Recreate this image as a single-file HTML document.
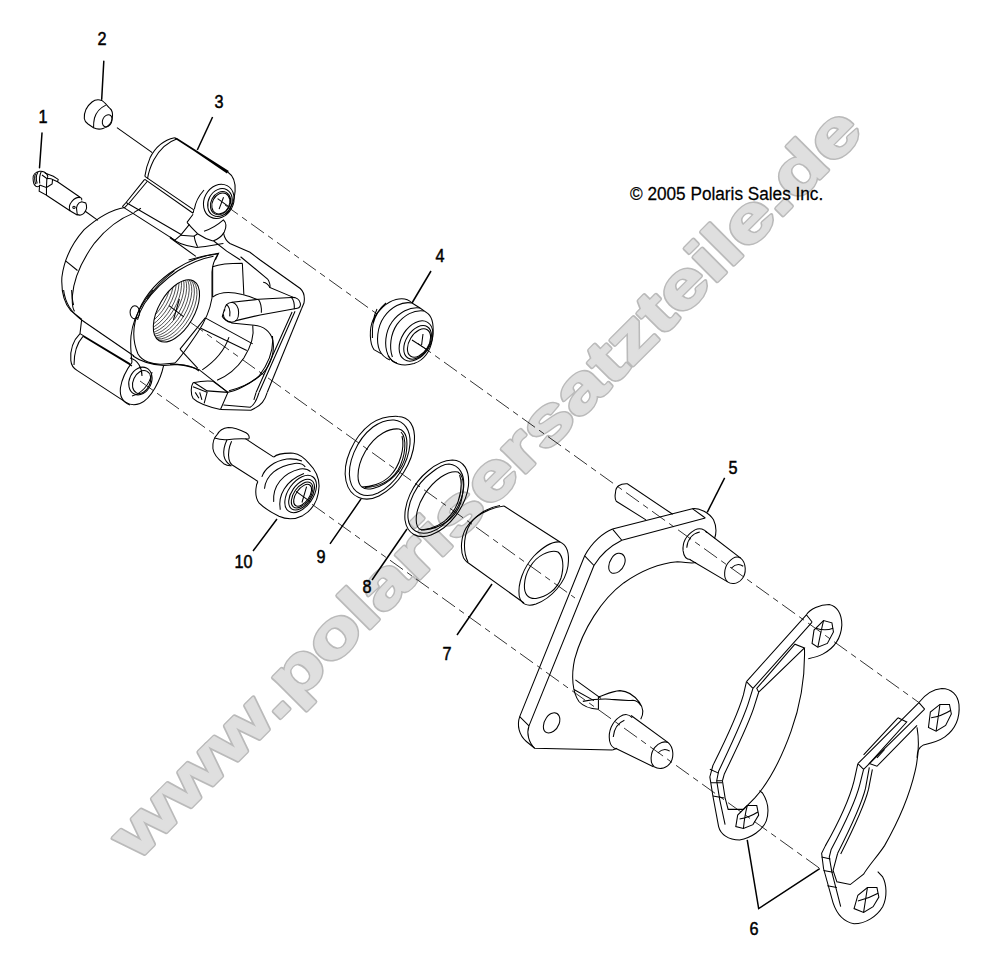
<!DOCTYPE html>
<html><head><meta charset="utf-8">
<style>
html,body{margin:0;padding:0;background:#fff;width:988px;height:970px;overflow:hidden}
svg{display:block;position:absolute;left:0;top:0}
.wm{font-family:"Liberation Sans",sans-serif;font-weight:bold;font-size:64px;stroke-linejoin:round}
.wmo{fill:#bababa;stroke:#bababa;stroke-width:4.0px}
.wmi{fill:#dfdfdf;stroke:#dfdfdf;stroke-width:1.3px}
.ld{stroke-width:1.5px}
.dl{stroke-width:0.8px}
.lbl{font-family:"Liberation Sans",sans-serif;font-size:18px;fill:#000;stroke:#000;stroke-width:0.5px}
.cp{font-family:"Liberation Sans",sans-serif;font-size:19px;fill:#000;stroke:#000;stroke-width:0.25px}
</style></head><body>
<svg width="988" height="970" viewBox="0 0 988 970">
<g id="wmark">
<text class="wm wmo" transform="translate(160.27,838.16) rotate(-45) scale(1.3242,1)" x="-24.86" y="0">w</text>
<text class="wm wmo" transform="translate(206.86,791.57) rotate(-45) scale(1.3230,1)" x="-24.86" y="0">w</text>
<text class="wm wmo" transform="translate(253.41,745.02) rotate(-45) scale(1.3218,1)" x="-24.86" y="0">w</text>
<text class="wm wmo" transform="translate(284.98,713.46) rotate(-45) scale(1.3210,1)" x="-8.86" y="0">.</text>
<text class="wm wmo" transform="translate(312.30,686.13) rotate(-45) scale(1.3203,1)" x="-20.34" y="0">p</text>
<text class="wm wmo" transform="translate(348.04,650.39) rotate(-45) scale(1.3193,1)" x="-19.55" y="0">o</text>
<text class="wm wmo" transform="translate(374.54,623.90) rotate(-45) scale(1.3186,1)" x="-8.86" y="0">l</text>
<text class="wm wmo" transform="translate(400.51,597.93) rotate(-45) scale(1.3180,1)" x="-18.94" y="0">a</text>
<text class="wm wmo" transform="translate(429.14,569.29) rotate(-45) scale(1.3172,1)" x="-14.08" y="0">r</text>
<text class="wm wmo" transform="translate(447.48,550.96) rotate(-45) scale(1.3167,1)" x="-8.86" y="0">i</text>
<text class="wm wmo" transform="translate(472.17,526.26) rotate(-45) scale(1.3161,1)" x="-17.61" y="0">s</text>
<text class="wm wmo" transform="translate(505.61,492.83) rotate(-45) scale(1.3152,1)" x="-17.95" y="0">e</text>
<text class="wm wmo" transform="translate(535.10,463.34) rotate(-45) scale(1.3145,1)" x="-14.08" y="0">r</text>
<text class="wm wmo" transform="translate(561.52,436.91) rotate(-45) scale(1.3138,1)" x="-17.61" y="0">s</text>
<text class="wm wmo" transform="translate(595.81,402.62) rotate(-45) scale(1.3129,1)" x="-18.94" y="0">a</text>
<text class="wm wmo" transform="translate(621.16,377.28) rotate(-45) scale(1.3122,1)" x="-10.66" y="0">t</text>
<text class="wm wmo" transform="translate(646.00,352.43) rotate(-45) scale(1.3116,1)" x="-16.12" y="0">z</text>
<text class="wm wmo" transform="translate(670.60,327.83) rotate(-45) scale(1.3109,1)" x="-10.66" y="0">t</text>
<text class="wm wmo" transform="translate(697.12,301.32) rotate(-45) scale(1.3102,1)" x="-17.95" y="0">e</text>
<text class="wm wmo" transform="translate(721.66,276.77) rotate(-45) scale(1.3096,1)" x="-8.86" y="0">i</text>
<text class="wm wmo" transform="translate(738.13,260.31) rotate(-45) scale(1.3092,1)" x="-8.86" y="0">l</text>
<text class="wm wmo" transform="translate(763.00,235.44) rotate(-45) scale(1.3085,1)" x="-17.95" y="0">e</text>
<text class="wm wmo" transform="translate(787.51,210.92) rotate(-45) scale(1.3079,1)" x="-8.86" y="0">.</text>
<text class="wm wmo" transform="translate(813.10,185.34) rotate(-45) scale(1.3072,1)" x="-18.75" y="0">d</text>
<text class="wm wmo" transform="translate(848.48,149.95) rotate(-45) scale(1.3063,1)" x="-17.95" y="0">e</text>
<text class="wm wmi" transform="translate(160.27,838.16) rotate(-45) scale(1.3242,1)" x="-24.86" y="0">w</text>
<text class="wm wmi" transform="translate(206.86,791.57) rotate(-45) scale(1.3230,1)" x="-24.86" y="0">w</text>
<text class="wm wmi" transform="translate(253.41,745.02) rotate(-45) scale(1.3218,1)" x="-24.86" y="0">w</text>
<text class="wm wmi" transform="translate(284.98,713.46) rotate(-45) scale(1.3210,1)" x="-8.86" y="0">.</text>
<text class="wm wmi" transform="translate(312.30,686.13) rotate(-45) scale(1.3203,1)" x="-20.34" y="0">p</text>
<text class="wm wmi" transform="translate(348.04,650.39) rotate(-45) scale(1.3193,1)" x="-19.55" y="0">o</text>
<text class="wm wmi" transform="translate(374.54,623.90) rotate(-45) scale(1.3186,1)" x="-8.86" y="0">l</text>
<text class="wm wmi" transform="translate(400.51,597.93) rotate(-45) scale(1.3180,1)" x="-18.94" y="0">a</text>
<text class="wm wmi" transform="translate(429.14,569.29) rotate(-45) scale(1.3172,1)" x="-14.08" y="0">r</text>
<text class="wm wmi" transform="translate(447.48,550.96) rotate(-45) scale(1.3167,1)" x="-8.86" y="0">i</text>
<text class="wm wmi" transform="translate(472.17,526.26) rotate(-45) scale(1.3161,1)" x="-17.61" y="0">s</text>
<text class="wm wmi" transform="translate(505.61,492.83) rotate(-45) scale(1.3152,1)" x="-17.95" y="0">e</text>
<text class="wm wmi" transform="translate(535.10,463.34) rotate(-45) scale(1.3145,1)" x="-14.08" y="0">r</text>
<text class="wm wmi" transform="translate(561.52,436.91) rotate(-45) scale(1.3138,1)" x="-17.61" y="0">s</text>
<text class="wm wmi" transform="translate(595.81,402.62) rotate(-45) scale(1.3129,1)" x="-18.94" y="0">a</text>
<text class="wm wmi" transform="translate(621.16,377.28) rotate(-45) scale(1.3122,1)" x="-10.66" y="0">t</text>
<text class="wm wmi" transform="translate(646.00,352.43) rotate(-45) scale(1.3116,1)" x="-16.12" y="0">z</text>
<text class="wm wmi" transform="translate(670.60,327.83) rotate(-45) scale(1.3109,1)" x="-10.66" y="0">t</text>
<text class="wm wmi" transform="translate(697.12,301.32) rotate(-45) scale(1.3102,1)" x="-17.95" y="0">e</text>
<text class="wm wmi" transform="translate(721.66,276.77) rotate(-45) scale(1.3096,1)" x="-8.86" y="0">i</text>
<text class="wm wmi" transform="translate(738.13,260.31) rotate(-45) scale(1.3092,1)" x="-8.86" y="0">l</text>
<text class="wm wmi" transform="translate(763.00,235.44) rotate(-45) scale(1.3085,1)" x="-17.95" y="0">e</text>
<text class="wm wmi" transform="translate(787.51,210.92) rotate(-45) scale(1.3079,1)" x="-8.86" y="0">.</text>
<text class="wm wmi" transform="translate(813.10,185.34) rotate(-45) scale(1.3072,1)" x="-18.75" y="0">d</text>
<text class="wm wmi" transform="translate(848.48,149.95) rotate(-45) scale(1.3063,1)" x="-17.95" y="0">e</text>
</g>
<text class="cp" transform="translate(630,199.5) scale(0.905,1)" x="0" y="0">© 2005 Polaris Sales Inc.</text>

<g id="draw" fill="none" stroke="#000" stroke-width="1.05" stroke-linecap="round" stroke-linejoin="round">
<!-- labels leader lines -->
<path class="ld" d="M103.8,61.2 L101.7,99.2"/>
<path class="ld" d="M42,133 L39.5,167.8"/>
<!-- part 2 cap -->
<path d="M101.7,100.4 C98,99 95,99.5 92,102 C87,106 84,112 84.3,118.5 C84.5,121 86,122.5 88,124 L93.5,127.8 C96,129 100,129.5 103,128.5 C108,127 111.5,123 112.3,118 C113,113 112,110 110,108.5 C107,105.5 104.5,102 101.7,100.4 Z"/>
<path d="M105.4,105.4 C100,108 96,113 94.5,118 C93.5,122 93.5,125 93.6,127.6"/>
<ellipse cx="107.2" cy="120.8" rx="4.6" ry="6.3" transform="rotate(25 107.2 120.8)"/>
</g>

<g id="bleeder" fill="none" stroke="#000" stroke-width="1.05" transform="translate(25,160) scale(0.080972)">
<path vector-effect="non-scaling-stroke" d="M100,230 C95,185 130,150 180,140 C215,135 250,150 270,175 C285,195 285,215 270,235"/>
<path vector-effect="non-scaling-stroke" d="M100,230 C100,270 110,310 135,325 C150,332 170,328 182,315"/>
<path vector-effect="non-scaling-stroke" d="M130,170 C115,200 115,260 135,300 M160,150 C140,180 135,240 150,290 M200,145 C185,175 175,230 182,290"/>
<path vector-effect="non-scaling-stroke" d="M180,310 L175,385 L265,435 L265,340 L180,310 M210,185 L270,230 L265,340 M270,230 C300,225 325,230 340,240 L335,295 L265,340"/>
<path vector-effect="non-scaling-stroke" d="M245,160 L350,200 L410,240 L402,268 L340,240 M402,268 L680,460 M265,435 L560,630"/>
<path vector-effect="non-scaling-stroke" d="M560,630 C540,600 548,550 580,510 C610,475 655,455 690,465 C700,470 705,480 700,500"/>
<path vector-effect="non-scaling-stroke" d="M640,630 C625,580 650,525 700,515 L750,530 C765,560 762,610 735,650 C710,680 670,690 645,670 Z"/>
<path vector-effect="non-scaling-stroke" d="M560,630 L650,682"/>
<circle vector-effect="non-scaling-stroke" cx="605" cy="585" r="15"/>
<path vector-effect="non-scaling-stroke" d="M740,630 L900,745"/>
</g>
<g id="z1" fill="none" stroke="#000" stroke-width="1.05" transform="translate(50,200) scale(0.14846)">
<path vector-effect="non-scaling-stroke" d="M505,50 C430,62 330,110 230,200 C150,290 95,400 80,520 C75,620 100,700 140,745 L215,805"/>
<path vector-effect="non-scaling-stroke" d="M570,85 C480,120 380,190 300,290 C220,400 160,520 150,650 C148,700 152,730 165,750"/>
<path vector-effect="non-scaling-stroke" d="M105,410 L185,475"/>
</g>
<g id="z2" fill="none" stroke="#000" stroke-width="1.05" transform="translate(130,120) scale(0.14846)">
<path vector-effect="non-scaling-stroke" d="M-88,51 L150,220"/>
<path vector-effect="non-scaling-stroke" d="M300,120 C230,135 170,185 135,255 C115,300 105,345 100,380"/>
<path vector-effect="non-scaling-stroke" d="M318,127 C250,150 195,205 160,270 C140,310 125,350 118,395"/>
<path vector-effect="non-scaling-stroke" d="M300,120 L660,352 M312,122 L664,346 M322,130 L655,357 M300,120 L322,130"/>
<path vector-effect="non-scaling-stroke" d="M660,352 C695,375 712,420 708,480 C704,540 680,600 645,640"/>
<ellipse vector-effect="non-scaling-stroke" cx="598" cy="548" rx="98" ry="120" transform="rotate(28 598 548)"/>
<ellipse vector-effect="non-scaling-stroke" cx="606" cy="556" rx="78" ry="98" transform="rotate(28 606 556)"/>
<ellipse vector-effect="non-scaling-stroke" cx="610" cy="560" rx="64" ry="82" transform="rotate(28 610 560)"/>
<ellipse vector-effect="non-scaling-stroke" cx="612" cy="562" rx="57" ry="74" transform="rotate(28 612 562)"/>
<path vector-effect="non-scaling-stroke" d="M100,380 L430,605 M100,400 L425,628 M430,605 L425,628"/>
<path vector-effect="non-scaling-stroke" d="M590,530 L660,580 M630,520 L600,600"/>
</g>

<g id="z8" fill="none" stroke="#000" stroke-width="1.05" transform="translate(110,180) scale(0.123716)">
<path vector-effect="non-scaling-stroke" d="M280,-5 L130,182 M302,10 L152,190"/>
<path vector-effect="non-scaling-stroke" d="M130,182 L575,440 M100,215 L530,490 M150,190 L120,222 M250,228 L195,262 M130,182 L100,215"/>
<path vector-effect="non-scaling-stroke" d="M300,960 C350,890 430,800 520,735"/>
</g>
<defs><clipPath id="boreclip"><ellipse vector-effect="non-scaling-stroke" cx="380" cy="410" rx="120" ry="232" transform="rotate(30 380 410)"/></clipPath></defs>
<g id="z9" fill="none" stroke="#000" stroke-width="1.05" transform="translate(120,250) scale(0.14846)">
<ellipse vector-effect="non-scaling-stroke" cx="380" cy="410" rx="120" ry="232" transform="rotate(30 380 410)"/>
<g clip-path="url(#boreclip)" stroke-width="0.7">
<ellipse vector-effect="non-scaling-stroke" cx="362.7" cy="400.0" rx="120" ry="232" transform="rotate(30 362.7 400.0)"/>
<ellipse vector-effect="non-scaling-stroke" cx="345.4" cy="390.0" rx="120" ry="232" transform="rotate(30 345.4 390.0)"/>
<ellipse vector-effect="non-scaling-stroke" cx="328.0" cy="380.0" rx="120" ry="232" transform="rotate(30 328.0 380.0)"/>
<ellipse vector-effect="non-scaling-stroke" cx="310.7" cy="370.0" rx="120" ry="232" transform="rotate(30 310.7 370.0)"/>
<ellipse vector-effect="non-scaling-stroke" cx="293.4" cy="360.0" rx="120" ry="232" transform="rotate(30 293.4 360.0)"/>
<ellipse vector-effect="non-scaling-stroke" cx="276.1" cy="350.0" rx="120" ry="232" transform="rotate(30 276.1 350.0)"/>
<ellipse vector-effect="non-scaling-stroke" cx="258.8" cy="340.0" rx="120" ry="232" transform="rotate(30 258.8 340.0)"/>
<ellipse vector-effect="non-scaling-stroke" cx="241.4" cy="330.0" rx="120" ry="232" transform="rotate(30 241.4 330.0)"/>
<ellipse vector-effect="non-scaling-stroke" cx="224.1" cy="320.0" rx="120" ry="232" transform="rotate(30 224.1 320.0)"/>
<ellipse vector-effect="non-scaling-stroke" cx="206.8" cy="310.0" rx="120" ry="232" transform="rotate(30 206.8 310.0)"/>
<ellipse vector-effect="non-scaling-stroke" cx="189.5" cy="300.0" rx="120" ry="232" transform="rotate(30 189.5 300.0)"/>
</g>
<path vector-effect="non-scaling-stroke" d="M330,375 L430,450 M400,330 L360,470"/>
<ellipse vector-effect="non-scaling-stroke" cx="100" cy="420" rx="32" ry="44"/>
<path vector-effect="non-scaling-stroke" d="M630,42 C560,55 470,90 390,140 C300,200 220,280 165,360 C140,400 125,440 118,470"/>
</g>
<g id="z10" fill="none" stroke="#000" stroke-width="1.05" transform="translate(180,260) scale(0.14846)">
<path vector-effect="non-scaling-stroke" d="M471,-52 L540,0 L810,192 C835,215 842,250 835,290 L820,325"/>
<path vector-effect="non-scaling-stroke" d="M408,-22 L590,128 C600,140 610,170 605,185 L760,250"/>
<path vector-effect="non-scaling-stroke" d="M560,150 C580,150 600,170 605,185"/>
<path vector-effect="non-scaling-stroke" d="M820,325 L588,891"/>
<path vector-effect="non-scaling-stroke" d="M775,345 L533,891 M755,350 L513,891"/>
<path vector-effect="non-scaling-stroke" d="M300,345 C300,310 320,288 350,285 C375,288 395,315 395,355 C395,395 375,420 345,420 C315,418 292,395 292,365"/>
<path vector-effect="non-scaling-stroke" d="M345,420 C330,415 295,400 285,380 L300,330 M310,300 C330,310 340,340 335,380"/>
<path vector-effect="non-scaling-stroke" d="M350,285 L530,265 L750,252 C780,250 805,265 810,290 C815,310 805,322 790,325 L540,370 L370,410"/>
<path vector-effect="non-scaling-stroke" d="M530,268 C545,290 550,320 548,355 M750,252 C768,270 772,300 770,332"/>
<path vector-effect="non-scaling-stroke" d="M220,250 C260,220 330,210 420,232 C460,240 500,260 530,268"/>
<path vector-effect="non-scaling-stroke" d="M345,425 L500,440 C560,445 610,480 625,540 C640,610 615,700 560,760 C500,820 420,860 330,880"/>
<path vector-effect="non-scaling-stroke" d="M490,440 C500,500 480,580 430,660 C390,720 320,780 250,810"/>
<path vector-effect="non-scaling-stroke" d="M330,520 C310,580 270,660 150,740"/>
<path vector-effect="non-scaling-stroke" d="M170,390 L490,565 M140,460 L450,610 M170,390 L0,600"/>
<path vector-effect="non-scaling-stroke" d="M220,45 L220,250 M420,22 L430,232 M220,45 C260,30 330,22 420,22"/>
<path vector-effect="non-scaling-stroke" d="M0,600 L120,730"/>
</g>
<g id="z11" fill="none" stroke="#000" stroke-width="1.05" transform="translate(170,330) scale(0.14846)">
<path vector-effect="non-scaling-stroke" d="M655,420 C640,470 620,510 545,540 L340,535"/>
<path vector-effect="non-scaling-stroke" d="M600,420 C585,470 570,505 540,520 L360,505 M580,420 L565,470"/>
<path vector-effect="non-scaling-stroke" d="M155,355 C140,380 138,430 155,460 C180,485 250,515 340,535"/>
<path vector-effect="non-scaling-stroke" d="M155,355 C200,345 250,340 290,345 L390,420 L340,535 M160,352 L250,410 L390,420 M155,382 L250,420 L230,495"/>
<path vector-effect="non-scaling-stroke" d="M170,420 L195,460 M200,420 L215,470"/>
<path vector-effect="non-scaling-stroke" d="M390,420 C440,410 530,370 600,310 C660,230 700,130 690,40"/>
<path vector-effect="non-scaling-stroke" d="M0,230 C60,230 140,245 200,270 L390,420"/>
</g>
<g id="z16" fill="none" stroke="#000" stroke-width="1.05" transform="translate(170,190) scale(0.080972)">
<path vector-effect="non-scaling-stroke" d="M300,240 C310,170 340,90 420,0"/>
<path vector-effect="non-scaling-stroke" d="M285,300 L210,400 M240,425 L130,560 L60,620"/>
<path vector-effect="non-scaling-stroke" d="M210,400 C260,460 300,500 340,540 C400,580 460,610 530,630"/>
<path vector-effect="non-scaling-stroke" d="M130,560 L300,570 M300,560 C300,600 315,650 340,700 M340,540 L300,570"/>
<path vector-effect="non-scaling-stroke" d="M0,580 C60,640 150,690 330,710 C420,705 520,685 660,660"/>
<path vector-effect="non-scaling-stroke" d="M420,510 C500,485 580,440 660,370 C690,400 705,450 670,520 C640,570 590,610 530,630"/>
<path vector-effect="non-scaling-stroke" d="M660,530 C670,580 690,630 740,660 L988,770"/>
<path vector-effect="non-scaling-stroke" d="M540,630 L700,755 L870,864"/>
<path vector-effect="non-scaling-stroke" d="M0,590 L320,820"/>
<path vector-effect="non-scaling-stroke" d="M230,864 C350,830 480,800 600,780 L560,864"/>
</g>
<g id="cal2" fill="none" stroke="#000" stroke-width="1.05" transform="translate(130,220) scale(0.2)">
<path vector-effect="non-scaling-stroke" d="M440,170 C380,175 300,200 230,245 C150,295 80,370 45,450 C15,520 10,600 40,670 C60,705 110,725 170,720 L225,715"/>
<path vector-effect="non-scaling-stroke" d="M440,170 C420,200 412,225 410,260 L410,390 C400,450 380,500 340,560 C300,620 260,680 225,715"/>
<path vector-effect="non-scaling-stroke" d="M0,690 C40,700 60,740 60,780 M10,880 C50,870 100,830 110,760"/>
</g>

<g id="cal3" fill="none" stroke="#000" stroke-width="1.05" transform="translate(50,290) scale(0.2)">
<path vector-effect="non-scaling-stroke" d="M68,0 C75,60 110,115 158,150 L420,330"/>
<path vector-effect="non-scaling-stroke" d="M108,0 C110,40 112,55 118,75"/>
<path vector-effect="non-scaling-stroke" d="M158,150 L150,218 M150,218 L400,368 M165,232 L410,380"/>
<path vector-effect="non-scaling-stroke" d="M150,218 C118,250 100,300 104,352 C106,375 115,390 135,402 L380,562 C400,575 430,575 450,568"/>
<path vector-effect="non-scaling-stroke" d="M165,232 C135,265 120,310 120,375"/>
<path vector-effect="non-scaling-stroke" d="M410,362 C385,395 360,440 352,490 C348,530 360,560 400,575"/>
<path vector-effect="non-scaling-stroke" d="M450,568 C480,555 505,525 525,490 C545,455 560,415 568,378 L640,372 C680,372 720,385 745,405"/>
<ellipse vector-effect="non-scaling-stroke" cx="452" cy="455" rx="55" ry="72" transform="rotate(25 452 455)"/>
<ellipse vector-effect="non-scaling-stroke" cx="458" cy="460" rx="42" ry="60" transform="rotate(25 458 460)"/>
<path vector-effect="non-scaling-stroke" d="M410,362 C405,320 400,280 405,230 C410,180 430,120 470,60 C485,35 500,15 515,0"/>
<path vector-effect="non-scaling-stroke" d="M415,330 C450,355 490,372 568,378"/>
</g>

<g id="p4" fill="none" stroke="#000" stroke-width="1.05" transform="translate(340,260) scale(0.2)">
<path vector-effect="non-scaling-stroke" class="ld" d="M455,55 L360,215"/>
<path vector-effect="non-scaling-stroke" d="M360,215 C340,195 310,190 280,198 C235,210 190,250 165,300 C145,345 148,420 170,448 L205,468"/>
<path vector-effect="non-scaling-stroke" d="M230,215 C200,240 175,280 165,320 M185,245 C170,275 160,330 162,390"/>
<path vector-effect="non-scaling-stroke" d="M360,215 C310,205 255,235 220,285 C185,335 180,410 198,452 C208,475 225,490 250,500"/>
<path vector-effect="non-scaling-stroke" d="M400,240 C350,232 295,262 260,310 C225,360 220,430 240,475 C250,495 265,510 285,515"/>
<path vector-effect="non-scaling-stroke" d="M420,255 C370,248 320,275 285,322 C252,370 245,440 262,485"/>
<path vector-effect="non-scaling-stroke" d="M360,215 L400,240 L440,268 C465,290 470,340 462,395 C452,455 420,500 370,518 C330,530 290,525 262,505 L240,480"/>
<ellipse vector-effect="non-scaling-stroke" cx="380" cy="405" rx="72" ry="110" transform="rotate(32 380 405)"/>
<ellipse vector-effect="non-scaling-stroke" cx="388" cy="412" rx="58" ry="92" transform="rotate(32 388 412)"/>
<ellipse vector-effect="non-scaling-stroke" cx="395" cy="415" rx="48" ry="78" transform="rotate(32 395 415)"/>
<path vector-effect="non-scaling-stroke" d="M360,400 L440,452 M415,370 L408,425"/>
</g>
<text class="lbl" transform="translate(435.5,262) scale(0.9,1)">4</text>

<g id="p10" fill="none" stroke="#000" stroke-width="1.05" transform="translate(200,415) scale(0.131579)">
<path vector-effect="non-scaling-stroke" class="ld" d="M585,790 L403,1034 M1224,638 L988,980"/>
<path vector-effect="non-scaling-stroke" d="M130,150 C145,120 170,100 215,95 C260,95 320,120 350,135 C370,148 378,165 372,182"/>
<path vector-effect="non-scaling-stroke" d="M130,150 C105,175 95,215 98,255 C102,295 130,330 180,370 C200,382 220,388 240,385"/>
<path vector-effect="non-scaling-stroke" d="M110,175 C140,185 175,190 205,188 C260,180 320,178 372,182"/>
<path vector-effect="non-scaling-stroke" d="M205,188 C190,220 175,270 182,310 C188,340 205,365 235,385"/>
<path vector-effect="non-scaling-stroke" d="M240,200 C222,240 212,290 220,335 C225,358 235,372 242,378"/>
<path vector-effect="non-scaling-stroke" d="M345,180 L560,320 M242,378 L440,505"/>
<path vector-effect="non-scaling-stroke" d="M560,320 C580,300 640,288 710,290 C750,295 790,320 830,370 C880,420 905,480 905,540 C902,640 860,720 780,765 C720,795 650,792 600,770 C540,740 480,700 450,670 C425,640 420,580 430,530 L440,505"/>
<path vector-effect="non-scaling-stroke" d="M470,470 C490,410 560,350 660,335 C710,330 750,340 775,350"/>
<path vector-effect="non-scaling-stroke" d="M490,560 C500,460 590,385 720,368 C760,365 790,380 800,395"/>
<path vector-effect="non-scaling-stroke" d="M560,660 C550,540 630,440 760,410 C800,405 830,420 840,430"/>
<path vector-effect="non-scaling-stroke" d="M610,720 C590,610 650,500 790,445"/>
<ellipse vector-effect="non-scaling-stroke" cx="765" cy="600" rx="95" ry="160" transform="rotate(35 765 600)"/>
<ellipse vector-effect="non-scaling-stroke" cx="772" cy="605" rx="76" ry="132" transform="rotate(35 772 605)"/>
<ellipse vector-effect="non-scaling-stroke" cx="776" cy="608" rx="62" ry="112" transform="rotate(35 776 608)"/>
<ellipse vector-effect="non-scaling-stroke" cx="780" cy="610" rx="50" ry="95" transform="rotate(35 780 610)"/>
<path vector-effect="non-scaling-stroke" d="M730,580 L840,660 M810,545 L775,665"/>
</g>
<text class="lbl" transform="translate(234.5,568) scale(0.9,1)">10</text>
<text class="lbl" transform="translate(316.5,563) scale(0.9,1)">9</text>

<g id="p98" fill="none" stroke="#000" stroke-width="1.05" transform="translate(330,390) scale(0.2)">
<path vector-effect="non-scaling-stroke" d="M340,132 C395,132 428,180 422,258 C414,360 345,478 245,530 C175,565 100,540 80,455 C60,365 115,235 205,168 C245,142 295,130 340,132 Z"/>
<path vector-effect="non-scaling-stroke" d="M320,150 C370,155 405,200 400,270 C392,365 330,470 240,515 C175,545 115,520 100,450 C85,370 130,250 215,185 C250,160 290,148 320,150"/>
<path vector-effect="non-scaling-stroke" d="M345,195 C380,205 392,250 380,320 C365,400 300,470 215,492 C165,505 140,480 140,430 C140,350 195,255 265,215 C295,198 320,192 345,195 Z"/>
<path vector-effect="non-scaling-stroke" d="M355,210 C385,240 380,330 340,400 C300,460 240,485 175,488 M360,230 C375,290 350,380 300,430 C260,470 200,485 160,485"/>
<path vector-effect="non-scaling-stroke" d="M612,350 C668,352 700,400 692,480 C680,580 600,690 505,725 C440,748 385,720 375,650 C368,570 410,470 490,405 C530,370 575,350 612,350 Z"/>
<path vector-effect="non-scaling-stroke" d="M595,370 C645,375 675,420 668,490 C658,580 590,680 505,710 C445,730 395,700 390,640 C385,565 430,470 505,415 C535,390 565,370 595,370"/>
<path vector-effect="non-scaling-stroke" d="M640,410 C670,430 672,490 655,560 C630,640 560,690 470,700 C435,702 428,670 432,630 C440,560 490,480 555,435 C585,415 615,405 640,410 Z"/>
<path vector-effect="non-scaling-stroke" d="M648,425 C668,480 650,570 600,630 C560,675 510,695 455,700 M655,445 C662,520 635,600 580,650"/>
<path vector-effect="non-scaling-stroke" class="ld" d="M385,695 L210,950"/>
</g>
<g id="p7" fill="none" stroke="#000" stroke-width="1.05" transform="translate(420,480) scale(0.2)">
<path vector-effect="non-scaling-stroke" class="ld" d="M360,520 L185,775"/>
<path vector-effect="non-scaling-stroke" d="M420,130 C340,140 270,180 230,240 C205,285 200,350 218,390 C225,400 230,408 235,410"/>
<path vector-effect="non-scaling-stroke" d="M400,128 C320,142 262,190 240,240 C218,292 215,360 240,410"/>
<path vector-effect="non-scaling-stroke" d="M420,130 L700,310 M235,410 L520,615"/>
<path vector-effect="non-scaling-stroke" d="M700,310 C735,325 748,370 740,430 C728,510 660,590 580,620 C535,635 505,620 496,580 C488,520 515,440 570,380 C610,340 660,305 700,310 Z"/>
<path vector-effect="non-scaling-stroke" d="M690,360 C715,380 722,430 705,490 C685,550 630,585 580,592 C540,595 520,570 522,525 C525,465 560,400 615,372 C645,357 672,352 690,360 Z"/>
</g>
<text class="lbl" transform="translate(362.5,593) scale(0.9,1)">8</text>
<text class="lbl" transform="translate(442.5,660) scale(0.9,1)">7</text>

<g id="bracket" fill="none" stroke="#000" stroke-width="1.05" transform="translate(490,440) scale(0.37129)">
<path vector-effect="non-scaling-stroke" d="M330,240 L545,185 C565,183 590,195 602,215 C610,232 610,250 605,265"/>
<path vector-effect="non-scaling-stroke" d="M355,270 L580,210 M330,240 L355,270 M545,185 L580,210"/>
<path vector-effect="non-scaling-stroke" d="M330,240 C305,250 275,275 255,312 L80,745 C72,768 78,795 98,812 L120,830 L330,835"/>
<path vector-effect="non-scaling-stroke" d="M355,270 C325,285 300,305 280,338 L105,770 C98,790 104,815 120,830"/>
<path vector-effect="non-scaling-stroke" d="M255,312 L280,338 M80,745 L105,770"/>
<path vector-effect="non-scaling-stroke" d="M555,330 C540,334 525,328 505,328 C460,332 410,350 360,385 C300,430 250,510 228,590 C218,635 222,680 240,705 C252,718 270,724 292,725 M292,692 C310,686 330,676 350,675 C372,676 390,690 402,706 C412,720 414,738 406,752 M250,704 C270,700 300,697 322,698 C345,700 365,703 385,701 C395,702 402,708 406,715 M292,692 L292,725 M342,830 L330,835"/>
<path vector-effect="non-scaling-stroke" d="M345,305 C360,303 368,318 362,335 C356,352 340,362 328,358 C316,352 318,332 328,318 C333,310 339,306 345,305 Z"/>
<path vector-effect="non-scaling-stroke" d="M170,735 C185,733 192,748 186,765 C180,782 164,792 152,788 C140,782 142,762 152,748 C157,740 163,736 170,735 Z"/>
<path vector-effect="non-scaling-stroke" d="M338,142 C338,125 350,117 370,118 L492,200 M340,165 L420,215 M338,142 C336,152 337,160 340,165"/>
<path vector-effect="non-scaling-stroke" d="M520,298 C518,275 530,255 552,242 C565,236 578,240 584,250 M520,298 C522,315 530,322 540,322"/>
<path vector-effect="non-scaling-stroke" d="M530,290 C532,268 545,252 565,248"/>
<path vector-effect="non-scaling-stroke" d="M580,245 L675,318 M538,322 L640,382"/>
<path vector-effect="non-scaling-stroke" d="M675,318 C690,330 692,360 678,375 C665,390 648,388 640,382 C628,372 630,345 642,330 C652,318 665,312 675,318 Z"/>
<path vector-effect="non-scaling-stroke" d="M650,345 C660,335 672,333 682,340"/>
<path vector-effect="non-scaling-stroke" d="M230,646 L299,696 M226,672 L280,702"/>
<path vector-effect="non-scaling-stroke" d="M322,810 C318,785 328,760 350,745 C362,737 375,738 383,748 M322,810 C325,825 332,830 340,832"/>
<path vector-effect="non-scaling-stroke" d="M332,800 C334,778 345,762 362,755"/>
<path vector-effect="non-scaling-stroke" d="M380,742 L480,815 M338,830 L440,880"/>
<path vector-effect="non-scaling-stroke" d="M480,815 C495,828 497,858 483,873 C470,888 452,886 442,880 C430,870 432,842 444,828 C455,815 470,810 480,815 Z"/>
<path vector-effect="non-scaling-stroke" d="M452,843 C462,833 474,831 484,838"/>
<path vector-effect="non-scaling-stroke" class="ld" d="M632,102 L585,195"/>
</g>
<text class="lbl" transform="translate(728.5,474) scale(0.9,1)">5</text>

<g id="pads" fill="none" stroke="#000" stroke-width="1.05" transform="translate(690,590) scale(0.38153)">
<path vector-effect="non-scaling-stroke" d="M305,65 C315,50 340,38 365,38 C385,42 398,62 398,92 C396,125 378,152 348,168 C335,175 320,178 310,180"/>
<path vector-effect="non-scaling-stroke" d="M320,140 L325,105 L350,80 L372,86 L376,110 L360,140 L335,150 Z"/>
<path vector-effect="non-scaling-stroke" d="M330,100 C345,105 360,106 375,100 M350,80 C345,100 340,125 335,150"/>
<path vector-effect="non-scaling-stroke" d="M305,65 L148,240 M320,84 L165,258 M305,65 L320,84 M148,240 L165,258"/>
<path vector-effect="non-scaling-stroke" d="M175,258 L275,142 L300,152 L180,268 Z"/>
<path vector-effect="non-scaling-stroke" d="M148,240 L140,275 C130,310 110,360 60,460 L52,490 L60,540 L75,620 C80,640 100,655 130,655 C160,650 190,630 200,605 C208,580 205,555 190,532 L182,526"/>
<path vector-effect="non-scaling-stroke" d="M165,258 L155,290 C145,325 125,370 75,475 L70,500 L78,550 L92,615"/>
<path vector-effect="non-scaling-stroke" d="M180,268 L170,300 C160,335 140,380 90,482 L85,500"/>
<path vector-effect="non-scaling-stroke" d="M52,470 L75,480 M55,505 L85,505 M60,540 L90,545 M70,500 L85,500"/>
<path vector-effect="non-scaling-stroke" d="M300,152 C302,220 290,300 265,370 C240,440 210,500 170,545 L140,575 L100,575 L92,545 L85,500"/>
<path vector-effect="non-scaling-stroke" d="M120,620 L125,590 L150,565 L175,565 L180,590 L165,615 L140,625 Z"/>
<path vector-effect="non-scaling-stroke" d="M130,600 C145,598 162,592 178,582 M150,566 C145,585 142,605 140,625"/>
<path vector-effect="non-scaling-stroke" d="M600,295 C615,275 635,260 660,258 C685,258 702,275 705,300 C708,335 695,365 668,385 C650,398 630,402 612,406 C600,412 595,425 595,440"/>
<path vector-effect="non-scaling-stroke" d="M625,360 L630,320 L655,300 L680,300 L685,325 L670,355 L645,370 Z"/>
<path vector-effect="non-scaling-stroke" d="M632,335 C650,332 668,325 684,315 M655,300 C652,325 648,350 645,370"/>
<path vector-effect="non-scaling-stroke" d="M600,295 L440,455 M615,312 L455,470 M600,295 L615,312 M440,455 L455,470"/>
<path vector-effect="non-scaling-stroke" d="M545,335 L568,346 L470,455 L490,462 L595,355 M545,335 L455,432 M490,440 L510,418"/>
<path vector-effect="non-scaling-stroke" d="M440,455 L430,500 C420,540 400,590 355,670 L345,690 L350,730 L375,820 C385,850 405,870 430,875 C460,875 490,855 505,830 C518,805 515,770 505,752 L492,738"/>
<path vector-effect="non-scaling-stroke" d="M455,470 L445,510 C435,550 415,595 370,680 L365,700 L372,740 L395,830"/>
<path vector-effect="non-scaling-stroke" d="M470,465 L460,520 C450,560 430,605 387,690 M478,470 L468,522 C458,562 438,607 395,692"/>
<path vector-effect="non-scaling-stroke" d="M595,360 C602,400 598,440 590,475 C575,540 550,600 510,670 C490,700 470,720 455,745 L420,772 L385,765 L375,735 L387,690"/>
<path vector-effect="non-scaling-stroke" d="M345,700 L368,705 M350,735 L375,740 M360,775 L385,780"/>
<path vector-effect="non-scaling-stroke" d="M430,835 L440,800 L465,780 L490,780 L495,805 L480,830 L455,845 Z"/>
<path vector-effect="non-scaling-stroke" d="M440,815 C455,812 475,805 493,795 M465,780 C462,800 458,825 455,845"/>
<path vector-effect="non-scaling-stroke" class="ld" d="M150,655 L180,835 L340,730"/>
</g>
<text class="lbl" transform="translate(749.5,935) scale(0.9,1)">6</text>
<path class="ld" fill="none" stroke="#000" d="M212.6,117 L197.3,150"/>
<g id="clines" fill="none" stroke="#000" stroke-width="0.8" stroke-dasharray="16 5 6 5">
<path d="M225.0,205.0 L378.0,314.7"/>
<path d="M418.0,343.4 L919.0,702.6"/>
<path d="M190.0,322.0 L575.0,598.0"/>
<path d="M140.0,381.0 L216.0,435.5"/>
<path d="M312.0,504.3 L822.0,870.0"/>
</g>
<g id="labels">
<text class="lbl" transform="translate(97.5,44.7) scale(0.9,1)">2</text>
<text class="lbl" transform="translate(38.5,123) scale(0.9,1)">1</text>
<text class="lbl" transform="translate(214.5,108) scale(0.9,1)">3</text>
</g>
</svg>
</body></html>
